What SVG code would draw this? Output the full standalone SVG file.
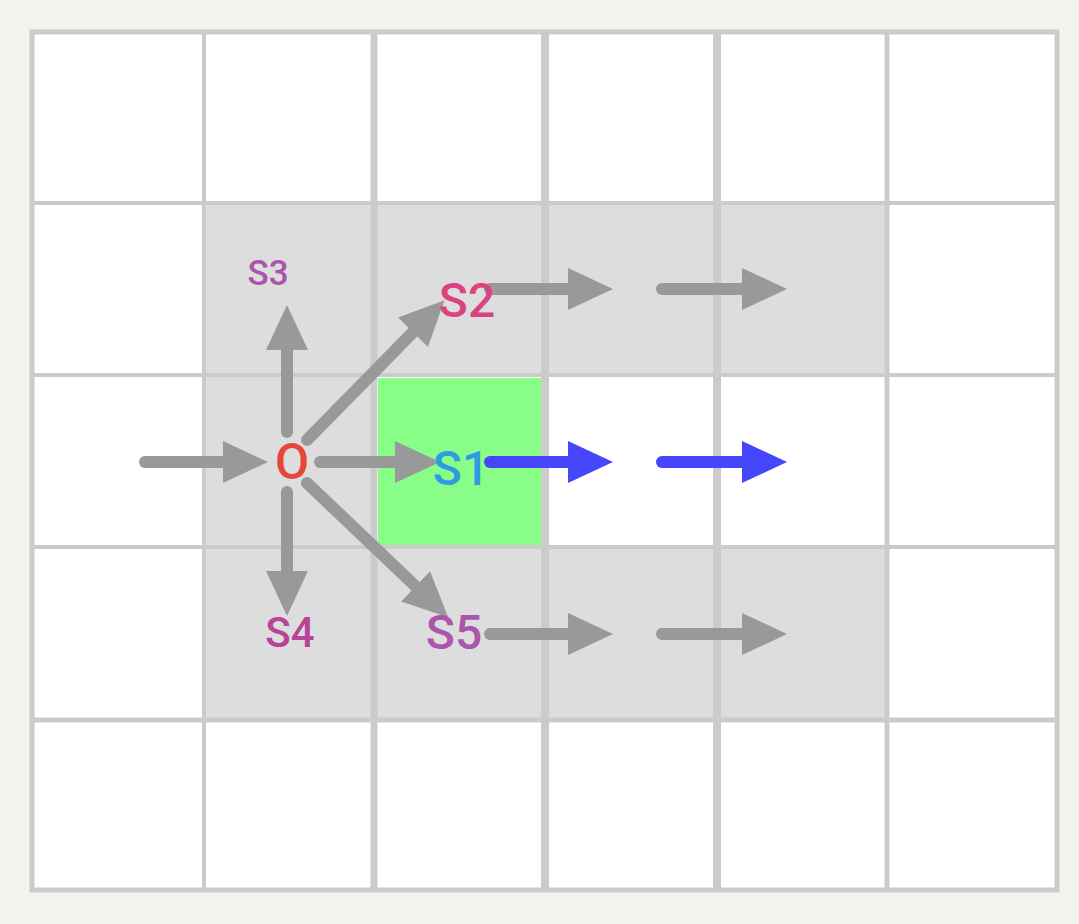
<svg xmlns="http://www.w3.org/2000/svg" width="1079" height="924" viewBox="0 0 1079 924">
<style>
.grid{stroke:#cbcbcb;fill:none}
.g{stroke:#999999;stroke-width:12;fill:none;stroke-linecap:round}
.b{stroke:#4646fa;stroke-width:12;fill:none;stroke-linecap:round}
.lbl{font-family:Roboto,"Liberation Sans",sans-serif;text-anchor:middle;font-weight:500}
</style>
<defs>
<marker id="ag" markerUnits="userSpaceOnUse" viewBox="0 0 45 42" refX="20" refY="21" markerWidth="45" markerHeight="42" orient="auto"><path d="M0,0 L45,21 L0,42 z" fill="#999999"/></marker>
<marker id="ab" markerUnits="userSpaceOnUse" viewBox="0 0 45 42" refX="20" refY="21" markerWidth="45" markerHeight="42" orient="auto"><path d="M0,0 L45,21 L0,42 z" fill="#4646fa"/></marker>
</defs>
<rect x="0" y="0" width="1079" height="924" fill="#f3f2ee"/>
<g id="cells">
<rect x="31" y="31" width="1027" height="860" fill="#ffffff"/>
<rect x="204" y="203" width="683" height="172" fill="#dddddd"/>
<rect x="204" y="375" width="171" height="172" fill="#dddddd"/>
<rect x="204" y="547" width="683" height="172" fill="#dddddd"/>
</g>
<g id="grid" class="grid">
<line x1="204" y1="31" x2="204" y2="891" stroke-width="4"/>
<line x1="374" y1="31" x2="374" y2="891" stroke-width="7"/>
<line x1="545" y1="31" x2="545" y2="891" stroke-width="8"/>
<line x1="717" y1="31" x2="717" y2="891" stroke-width="8"/>
<line x1="887" y1="31" x2="887" y2="891" stroke-width="5"/>
<line x1="31" y1="203" x2="1058" y2="203" stroke-width="4"/>
<line x1="31" y1="375" x2="1058" y2="375" stroke-width="4"/>
<line x1="31" y1="547" x2="1058" y2="547" stroke-width="4"/>
<line x1="31" y1="720" x2="1058" y2="720" stroke-width="5"/>
<rect x="32" y="32" width="1025" height="858" stroke-width="5"/>
</g>
<rect id="goal" x="378" y="378" width="163" height="167" fill="#88fe88"/>
<g id="connectors">
<line class="g" x1="145" y1="462" x2="243" y2="462" marker-end="url(#ag)"/>
<line class="g" x1="320" y1="462" x2="415" y2="462" marker-end="url(#ag)"/>
<line class="g" x1="287" y1="432" x2="287" y2="330" marker-end="url(#ag)"/>
<line class="g" x1="287" y1="492" x2="287" y2="591" marker-end="url(#ag)"/>
<line class="g" x1="307" y1="440" x2="427" y2="318" marker-end="url(#ag)"/>
<line class="g" x1="307" y1="483" x2="430" y2="600" marker-end="url(#ag)"/>
<line class="g" x1="490" y1="289" x2="588" y2="289" marker-end="url(#ag)"/>
<line class="g" x1="662" y1="289" x2="762" y2="289" marker-end="url(#ag)"/>
<line class="b" x1="490" y1="462" x2="588" y2="462" marker-end="url(#ab)"/>
<line class="b" x1="662" y1="462" x2="762" y2="462" marker-end="url(#ab)"/>
<line class="g" x1="490" y1="634" x2="588" y2="634" marker-end="url(#ag)"/>
<line class="g" x1="662" y1="634" x2="762" y2="634" marker-end="url(#ag)"/>
</g>
<g id="node-O"><text class="lbl" x="292" y="479" font-size="50" fill="#e5483a">O</text></g>
<g id="node-S1"><text class="lbl" x="461" y="485" font-size="48" fill="#2f9be2">S1</text></g>
<g id="node-S2"><text class="lbl" x="467" y="317" font-size="48" fill="#d9437f">S2</text></g>
<g id="node-S3"><text class="lbl" x="268" y="285" font-size="35" fill="#a955ad">S3</text></g>
<g id="node-S4"><text class="lbl" x="290" y="647" font-size="42" fill="#b8449a">S4</text></g>
<g id="node-S5"><text class="lbl" x="454" y="649" font-size="48" fill="#a957ac">S5</text></g>
</svg>
